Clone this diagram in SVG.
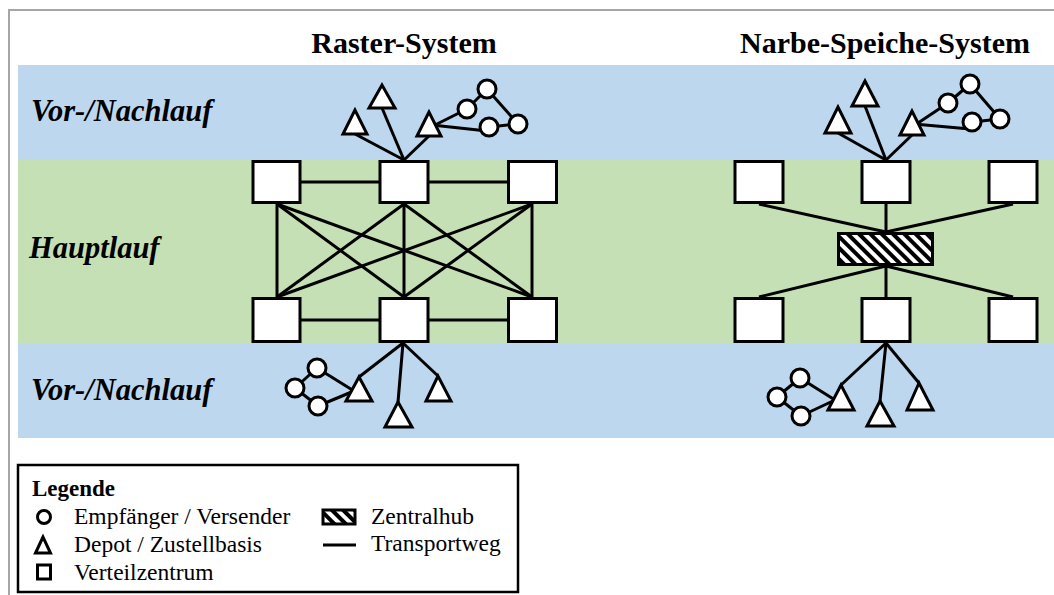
<svg xmlns="http://www.w3.org/2000/svg" width="1054" height="595" viewBox="0 0 1054 595">
  <defs>
    <!-- diagonal hatch used for the central hub -->
    <pattern id="hatch" width="8" height="8" patternUnits="userSpaceOnUse" patternTransform="rotate(-45)">
      <rect width="8" height="8" fill="#fff"/>
      <rect width="4" height="8" fill="#000"/>
    </pattern>
  </defs>
  <style>
    .title{font-family:"Liberation Serif","Times New Roman",serif;font-weight:bold;font-size:30px;fill:#000}
    .lane{font-family:"Liberation Serif","Times New Roman",serif;font-weight:bold;font-style:italic;font-size:30.5px;fill:#000}
    .leg{font-family:"Liberation Serif","Times New Roman",serif;font-size:23.5px;fill:#000}
    .legh{font-family:"Liberation Serif","Times New Roman",serif;font-size:23px;font-weight:bold;fill:#000}
    .n{fill:#fff;stroke:#000;stroke-width:3}
    .e{fill:none;stroke:#000;stroke-width:3}
  </style>

  <rect width="1054" height="595" fill="#fff"/>
  <path d="M9,595 V10 H1054" fill="none" stroke="#a6a6a6" stroke-width="2"/>

  <!-- lanes -->
  <rect x="18" y="65" width="1036" height="95" fill="#bdd7ee"/>
  <rect x="18" y="160" width="1036" height="183" fill="#c5e0b4"/>
  <rect x="18" y="343" width="1036" height="95" fill="#bdd7ee"/>

  <text class="title" x="404" y="53" text-anchor="middle">Raster-System</text>
  <text class="title" x="885" y="53" text-anchor="middle">Narbe-Speiche-System</text>
  <text class="lane" x="31" y="121">Vor-/Nachlauf</text>
  <text class="lane" x="29" y="258">Hauptlauf</text>
  <text class="lane" x="31" y="400">Vor-/Nachlauf</text>

  <!-- transport routes -->
  <g id="connectors" class="e">
    <!-- raster: upper feeder -->
    <line x1="404" y1="160" x2="355" y2="134"/>
    <line x1="404" y1="160" x2="382" y2="108"/>
    <line x1="404" y1="160" x2="429" y2="136"/>
    <line x1="429" y1="128" x2="467" y2="109"/>
    <line x1="432" y1="125" x2="487" y2="131"/>
    <line x1="467" y1="109" x2="487" y2="89"/>
    <line x1="487" y1="89" x2="518" y2="124"/>
    <line x1="489" y1="127" x2="518" y2="124"/>
    <!-- raster: main haul -->
    <line x1="277" y1="182" x2="532" y2="182"/>
    <line x1="277" y1="320" x2="532" y2="320"/>
    <line x1="277" y1="204" x2="277" y2="297"/>
    <line x1="277" y1="204" x2="404" y2="297"/>
    <line x1="277" y1="204" x2="532" y2="297"/>
    <line x1="404" y1="204" x2="277" y2="297"/>
    <line x1="404" y1="204" x2="404" y2="297"/>
    <line x1="404" y1="204" x2="532" y2="297"/>
    <line x1="532" y1="204" x2="277" y2="297"/>
    <line x1="532" y1="204" x2="404" y2="297"/>
    <line x1="532" y1="204" x2="532" y2="297"/>
    <!-- raster: lower feeder -->
    <line x1="403" y1="343" x2="359" y2="377"/>
    <line x1="403" y1="343" x2="398" y2="402"/>
    <line x1="403" y1="343" x2="438" y2="376"/>
    <line x1="317" y1="368" x2="354" y2="391"/>
    <line x1="318" y1="406" x2="354" y2="391"/>
    <line x1="317" y1="368" x2="295" y2="388"/>
    <line x1="295" y1="388" x2="318" y2="406"/>
    <!-- hub and spoke: upper feeder -->
    <line x1="886" y1="160" x2="838" y2="133"/>
    <line x1="886" y1="160" x2="865" y2="106"/>
    <line x1="886" y1="160" x2="912" y2="135"/>
    <line x1="912" y1="127" x2="948" y2="103"/>
    <line x1="914" y1="124" x2="970" y2="129"/>
    <line x1="948" y1="103" x2="970" y2="84"/>
    <line x1="970" y1="84" x2="1000" y2="119"/>
    <line x1="972" y1="122" x2="1000" y2="119"/>
    <!-- hub and spoke: main haul -->
    <line x1="759" y1="204" x2="886" y2="232"/>
    <line x1="886" y1="204" x2="886" y2="232"/>
    <line x1="1013" y1="204" x2="886" y2="232"/>
    <line x1="886" y1="266" x2="759" y2="297"/>
    <line x1="886" y1="266" x2="886" y2="297"/>
    <line x1="886" y1="266" x2="1013" y2="297"/>
    <!-- hub and spoke: lower feeder -->
    <line x1="886" y1="343" x2="841" y2="385"/>
    <line x1="886" y1="343" x2="880" y2="401"/>
    <line x1="886" y1="343" x2="919" y2="383"/>
    <line x1="800" y1="378" x2="835" y2="400"/>
    <line x1="801" y1="416" x2="835" y2="400"/>
    <line x1="800" y1="378" x2="777" y2="397"/>
    <line x1="777" y1="397" x2="801" y2="416"/>
  </g>

  <!-- raster system nodes -->
  <g id="r-dc-top-left"><rect class="n" x="253" y="161.5" width="47" height="41"/></g>
  <g id="r-dc-top-mid"><rect class="n" x="380" y="161.5" width="48" height="41"/></g>
  <g id="r-dc-top-right"><rect class="n" x="508.5" y="161.5" width="48" height="41"/></g>
  <g id="r-dc-bot-left"><rect class="n" x="253" y="298.5" width="47" height="43"/></g>
  <g id="r-dc-bot-mid"><rect class="n" x="380" y="298.5" width="48" height="43"/></g>
  <g id="r-dc-bot-right"><rect class="n" x="508.5" y="298.5" width="48" height="43"/></g>

  <g id="r-depot-t1"><polygon class="n" points="355,110 343,134 367,134"/></g>
  <g id="r-depot-t2"><polygon class="n" points="382,85 369,108 395,108"/></g>
  <g id="r-depot-t3"><polygon class="n" points="429,112 417,136 441,136"/></g>
  <g id="r-cust-t1"><circle class="n" cx="467" cy="109" r="9"/></g>
  <g id="r-cust-t2"><circle class="n" cx="487" cy="89" r="9"/></g>
  <g id="r-cust-t3"><circle class="n" cx="489" cy="127" r="9"/></g>
  <g id="r-cust-t4"><circle class="n" cx="518" cy="124" r="9"/></g>

  <g id="r-depot-b1"><polygon class="n" points="359,377 346,401 372,401"/></g>
  <g id="r-depot-b2"><polygon class="n" points="398,402 385,427 412,427"/></g>
  <g id="r-depot-b3"><polygon class="n" points="438,376 426,401 451,401"/></g>
  <g id="r-cust-b1"><circle class="n" cx="317" cy="368" r="9"/></g>
  <g id="r-cust-b2"><circle class="n" cx="295" cy="388" r="9"/></g>
  <g id="r-cust-b3"><circle class="n" cx="318" cy="406" r="9"/></g>

  <!-- hub and spoke nodes -->
  <g id="h-dc-top-left"><rect class="n" x="735" y="161.5" width="48" height="41"/></g>
  <g id="h-dc-top-mid"><rect class="n" x="862" y="161.5" width="48" height="41"/></g>
  <g id="h-dc-top-right"><rect class="n" x="989" y="161.5" width="48" height="41"/></g>
  <g id="h-dc-bot-left"><rect class="n" x="735" y="298.5" width="48" height="43"/></g>
  <g id="h-dc-bot-mid"><rect class="n" x="862" y="298.5" width="48" height="43"/></g>
  <g id="h-dc-bot-right"><rect class="n" x="989" y="298.5" width="48" height="43"/></g>
  <g id="h-hub"><rect x="838.5" y="233.5" width="94" height="31" fill="url(#hatch)" stroke="#000" stroke-width="3"/></g>

  <g id="h-depot-t1"><polygon class="n" points="838,107 825,133 851,133"/></g>
  <g id="h-depot-t2"><polygon class="n" points="865,81 852,106 878,106"/></g>
  <g id="h-depot-t3"><polygon class="n" points="912,111 900,135 924,135"/></g>
  <g id="h-cust-t1"><circle class="n" cx="948" cy="103" r="9"/></g>
  <g id="h-cust-t2"><circle class="n" cx="970" cy="84" r="9"/></g>
  <g id="h-cust-t3"><circle class="n" cx="972" cy="122" r="9"/></g>
  <g id="h-cust-t4"><circle class="n" cx="1000" cy="119" r="9"/></g>

  <g id="h-depot-b1"><polygon class="n" points="841,385 828,410 854,410"/></g>
  <g id="h-depot-b2"><polygon class="n" points="880,401 867,426 894,426"/></g>
  <g id="h-depot-b3"><polygon class="n" points="919,383 907,410 933,410"/></g>
  <g id="h-cust-b1"><circle class="n" cx="800" cy="378" r="9"/></g>
  <g id="h-cust-b2"><circle class="n" cx="777" cy="397" r="9"/></g>
  <g id="h-cust-b3"><circle class="n" cx="801" cy="416" r="9"/></g>

  <!-- legend -->
  <g id="legend">
    <rect x="18" y="465" width="500" height="127" fill="#fff" stroke="#000" stroke-width="2.5"/>
    <text class="legh" x="32" y="496">Legende</text>
    <circle cx="44" cy="517" r="6.5" fill="none" stroke="#000" stroke-width="3"/>
    <text class="leg" x="74" y="524">Empfänger / Versender</text>
    <polygon points="43,537 35.5,553 50.5,553" fill="none" stroke="#000" stroke-width="3"/>
    <text class="leg" x="74" y="552">Depot / Zustellbasis</text>
    <rect x="37.5" y="565" width="13" height="14" fill="none" stroke="#000" stroke-width="3"/>
    <text class="leg" x="74" y="580">Verteilzentrum</text>
    <rect x="323" y="510" width="32" height="14" fill="url(#hatch)" stroke="#000" stroke-width="3"/>
    <text class="leg" x="371" y="524">Zentralhub</text>
    <line x1="323" y1="545" x2="356" y2="545" stroke="#000" stroke-width="3"/>
    <text class="leg" x="371" y="551">Transportweg</text>
  </g>
</svg>
